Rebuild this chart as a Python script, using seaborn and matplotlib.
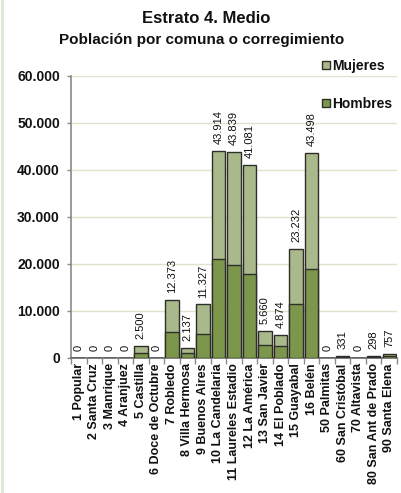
import matplotlib
matplotlib.use("Agg")
import matplotlib.pyplot as plt
import matplotlib.patches as mpatches
from matplotlib.ticker import FuncFormatter, FixedLocator
import seaborn as sns
import pandas as pd

categorias = ["1 Popular", "2 Santa Cruz", "3 Manrique", "4 Aranjuez", "5 Castilla",
              "6 Doce de Octubre", "7 Robledo", "8 Villa Hermosa", "9 Buenos Aires",
              "10 La Candelaria", "11 Laureles Estadio", "12 La América", "13 San Javier",
              "14 El Poblado", "15 Guayabal", "16 Belén", "50 Palmitas", "60 San Cristóbal",
              "70 Altavista", "80 San Ant de Prado", "90 Santa Elena"]
totales = [0, 0, 0, 0, 2500, 0, 12373, 2137, 11327, 43914, 43839, 41081, 5660, 4874,
           23232, 43498, 0, 331, 0, 298, 757]
hombres = [0, 0, 0, 0, 950, 0, 5450, 900, 4970, 20960, 19640, 17900, 2800, 2450,
           11530, 18950, 0, 150, 0, 140, 360]

c_muj = "#a9b98b"
c_hom = "#7c964b"
edge = "#2e2e2a"

sns.set_theme(style="white")
plt.rcParams["font.family"] = ["Liberation Sans", "DejaVu Sans"]

df = pd.DataFrame({"categoria": categorias, "total": totales, "hombres": hombres})

fig = plt.figure(figsize=(4.01, 4.93), dpi=100)
ax = fig.add_axes([71 / 401, (493 - 357.7) / 493, (397 - 71) / 401, (357.7 - 75.7) / 493])

sns.barplot(data=df, x="categoria", y="total", order=categorias, color=c_muj,
            saturation=1, edgecolor=edge, linewidth=1.0, width=0.86, ax=ax, zorder=3)
sns.barplot(data=df, x="categoria", y="hombres", order=categorias, color=c_hom,
            saturation=1, edgecolor=edge, linewidth=1.0, width=0.86, ax=ax, zorder=3)

ax.set_xlim(-0.5, len(categorias) - 0.5)
ax.set_ylim(0, 60000)
ax.yaxis.set_major_locator(FixedLocator([0, 10000, 20000, 30000, 40000, 50000, 60000]))
ax.yaxis.set_major_formatter(FuncFormatter(lambda v, p: f"{int(v):,}".replace(",", ".")))
ax.grid(axis="y", color="#dfe3c8", linewidth=1.0, zorder=0)
ax.grid(axis="x", visible=False)
ax.set_axisbelow(True)

for s in ["top", "right"]:
    ax.spines[s].set_visible(False)
ax.spines["left"].set_color("#8a8a8a")
ax.spines["bottom"].set_color("#6a6a6a")
ax.spines["left"].set_linewidth(1.2)
ax.spines["bottom"].set_linewidth(1.2)
ax.set_xlabel("")
ax.set_ylabel("")

ax.set_xticks(range(len(categorias)))
ax.set_xticklabels(categorias, rotation=90, fontsize=9, fontweight="bold", color="#111111")
ax.tick_params(axis="x", length=0, pad=4)
ax.set_xticks([i - 0.5 for i in range(len(categorias) + 1)], minor=True)
ax.tick_params(axis="x", which="minor", length=4, width=1, color="#8a8a8a", direction="out", bottom=True)
ax.tick_params(axis="y", labelsize=10, length=3, width=1, color="#8a8a8a", direction="out", left=True, pad=5)
for lab in ax.get_yticklabels():
    lab.set_fontweight("bold")
    lab.set_color("#111111")

for i, t in enumerate(totales):
    ax.annotate(f"{t:,}".replace(",", "."), xy=(i, t), xytext=(0, 5), textcoords="offset points",
                rotation=90, ha="center", va="bottom", fontsize=8, color="#111111", zorder=5)

fig.text(0.515, 0.962, "Estrato 4. Medio", ha="center", va="center", fontsize=12,
         fontweight="bold", color="#111111")
fig.text(0.502, 0.918, "Población por comuna o corregimiento", ha="center", va="center",
         fontsize=11, fontweight="bold", color="#111111")

h_muj = mpatches.Patch(facecolor=c_muj, edgecolor=edge, linewidth=1)
h_hom = mpatches.Patch(facecolor=c_hom, edgecolor=edge, linewidth=1)
leg = fig.legend([h_muj, h_hom], ["Mujeres", "Hombres"], loc="upper left",
                 bbox_to_anchor=(322 / 401, 1 - 59 / 493), frameon=False,
                 handlelength=0.55, handleheight=0.55, handletextpad=0.2,
                 labelspacing=1.7, borderaxespad=0, borderpad=0,
                 prop={"weight": "bold", "size": 10})
for t in leg.get_texts():
    t.set_color("#111111")

fig.add_artist(plt.Line2D([0.004, 0.004], [0, 1], transform=fig.transFigure,
                          color="#dde7d2", linewidth=2))

fig.savefig("out.png", dpi=100)
